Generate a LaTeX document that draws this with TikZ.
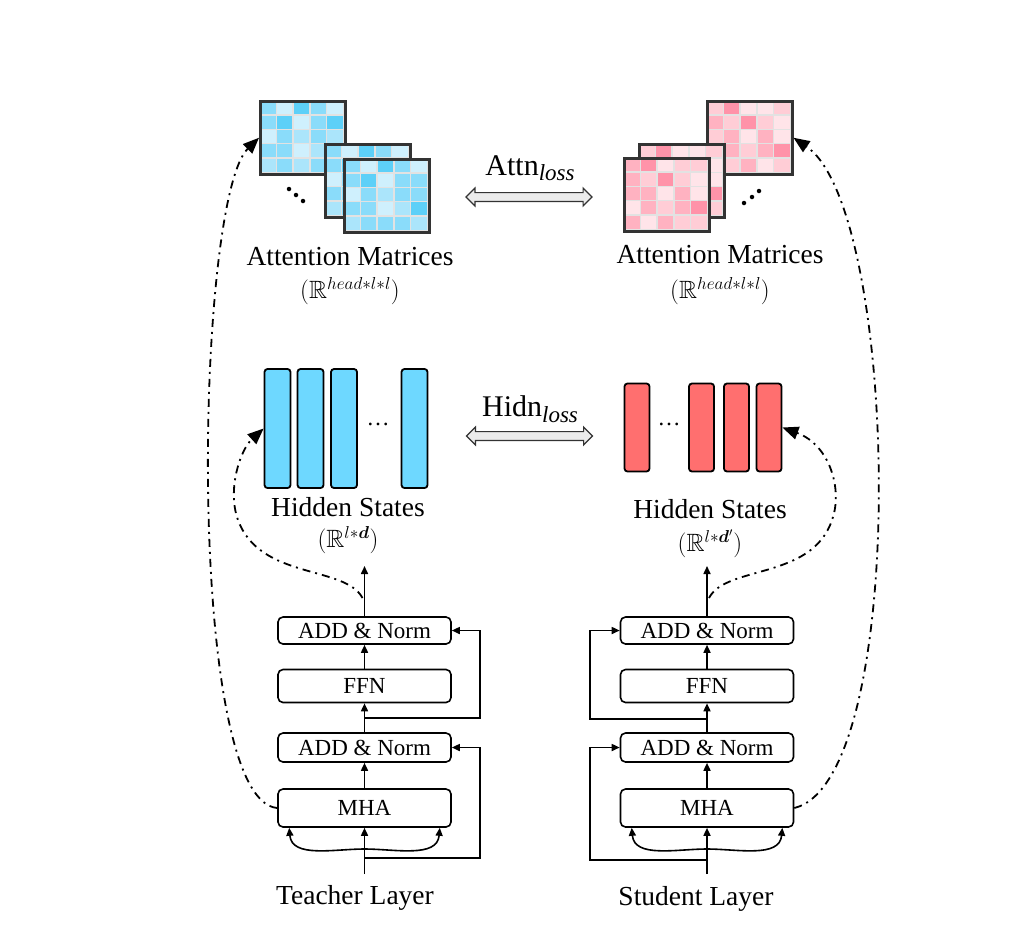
\documentclass[tikz,border=0pt]{standalone}
\usepackage{amsmath,amssymb,bm}
\usepackage{fontspec}
\setmainfont{Liberation Serif}
\usetikzlibrary{arrows.meta,shapes.arrows}
\definecolor{barblue}{HTML}{6ED8FF}
\definecolor{barred}{HTML}{FF6F6F}
\definecolor{bA}{HTML}{CFF0FD}
\definecolor{bB}{HTML}{ABE5FB}
\definecolor{bC}{HTML}{8ADCFA}
\definecolor{bD}{HTML}{5DD0F8}
\definecolor{pA}{HTML}{FFE4E9}
\definecolor{pB}{HTML}{FFCDD6}
\definecolor{pC}{HTML}{FFB2C1}
\definecolor{pD}{HTML}{FF93A9}
\definecolor{gridgray}{HTML}{E2E2E2}
\definecolor{framegray}{HTML}{333333}
\newcommand\attmat[5]{%
  \fill[gridgray] (#1,#2) rectangle ++(85,73);
  \foreach \row [count=\r from 0] in {#5} {
    \foreach \v [count=\c from 0] in \row {
      \fill[fill=#4\v] ({#1+1.5+\c*16.7},{#2+1.5+\r*14.3}) rectangle ++(15.2,12.8);
    }
  }
  \node[draw=framegray, line width=2.5pt, minimum width=85, minimum height=73, inner sep=0pt, anchor=north west] (#3) at (#1,#2) {};
}
\newcommand\lblfont{\fontsize{27.5}{30}\selectfont}
\newcommand\subfont{\fontsize{25}{28}\selectfont}
\newcommand\boxfont{\fontsize{23}{25}\selectfont}
\newcommand\lossfont{\fontsize{30}{32}\selectfont}
\newcommand\losssub[1]{\raisebox{-0.4ex}{\fontsize{23}{23}\selectfont\itshape #1}}
\tikzset{
  lbl/.style={font=\lblfont, inner sep=0pt},
  dimlbl/.style={font=\subfont, inner sep=0pt},
  layerbox/.style={draw, line width=1.6pt, rounded corners=5pt, minimum width=173, inner sep=0pt, font=\boxfont},
  arr/.style={line width=1.6pt, -{Triangle[length=8pt,width=7pt]}},
  dd/.style={line width=1.8pt, dash pattern=on 8pt off 5pt on 2pt off 5pt, -{Triangle[length=16pt,width=13pt]}},
  tbar/.style={draw, line width=1.8pt, rounded corners=3pt, fill=barblue, minimum width=26, minimum height=119, inner sep=0pt},
  sbar/.style={draw, line width=1.8pt, rounded corners=3pt, fill=barred, minimum width=25, minimum height=88, inner sep=0pt},
  lossarrow/.style={double arrow, draw=black!80, line width=1.2pt, fill=black!8, minimum height=126, inner sep=3.8pt, double arrow head extend=4.5pt, double arrow tip angle=90},
  dot/.style={circle, fill, inner sep=0pt, minimum size=4.5pt}
}
\begin{document}
\begin{tikzpicture}[x=1pt,y=-1pt]
\useasboundingbox (0,0) rectangle (1016,946);
% ---------- attention matrices ----------
\attmat{259}{100}{tM1}{b}{{C,A,D,C,A},{C,D,A,C,D},{A,C,B,C,B},{C,C,A,B,C},{B,C,B,C,B}}
\attmat{324}{143}{tM2}{b}{{C,A,D,C,A},{C,D,A,C,D},{A,C,B,C,B},{C,C,A,B,C},{B,C,B,C,B}}
\attmat{343}{158}{tM3}{b}{{C,A,D,C,A},{C,D,A,C,C},{A,C,B,C,C},{C,C,A,B,D},{B,C,C,C,B}}
\attmat{706}{100}{sM1}{p}{{B,D,A,A,B},{C,B,D,B,A},{B,C,A,C,A},{B,C,B,C,D},{A,B,C,A,B}}
\attmat{638}{143}{sM2}{p}{{B,D,A,A,B},{C,B,D,B,A},{B,C,A,C,A},{B,C,B,C,D},{A,B,C,A,B}}
\attmat{623}{157}{sM3}{p}{{C,D,A,B,B},{C,B,D,B,A},{C,C,A,C,A},{A,C,B,C,D},{C,A,C,B,B}}
\node[dot] (td1) at (289,189) {};
\node[dot] (td2) at (296,195) {};
\node[dot] (td3) at (303,201) {};
\node[dot] (sd1) at (744,203) {};
\node[dot] (sd2) at (752,197) {};
\node[dot] (sd3) at (759,191) {};
\node[lbl] (tattl) at (350,257) {Attention Matrices};
\node[dimlbl] (tattd) at (350,291) {$(\mathbb{R}^{head*l*l})$};
\node[lbl] (sattl) at (720,255) {Attention Matrices};
\node[dimlbl] (sattd) at (720,291) {$(\mathbb{R}^{head*l*l})$};
% ---------- losses ----------
\node[font=\lossfont, inner sep=0pt] (attnt) at (530,168) {Attn\losssub{loss}};
\node[lossarrow] (attna) at (529,197) {};
\node[font=\lossfont, inner sep=0pt] (hidnt) at (530,409) {Hidn\losssub{loss}};
\node[lossarrow] (hidna) at (529.5,436) {};
% ---------- hidden states ----------
\node[tbar] (tb1) at (277.5,428.5) {};
\node[tbar] (tb2) at (310.5,428.5) {};
\node[tbar] (tb3) at (344,428.5) {};
\node[tbar] (tb4) at (414.5,428.5) {};
\node[font=\boxfont, inner sep=0pt] (tdots) at (378,424) {\dots};
\node[sbar] (sb1) at (637,427.5) {};
\node[sbar] (sb2) at (701.5,427.5) {};
\node[sbar] (sb3) at (736.5,427.5) {};
\node[sbar] (sb4) at (769,427.5) {};
\node[font=\boxfont, inner sep=0pt] (sdots) at (669,424) {\dots};
\node[lbl] (thl) at (348,507) {Hidden States};
\node[dimlbl] (thd) at (348,540) {$(\mathbb{R}^{l*\boldsymbol{d}})$};
\node[lbl] (shl) at (710,509) {Hidden States};
\node[dimlbl] (shd) at (710,544) {$(\mathbb{R}^{l*\boldsymbol{d}'})$};
% ---------- teacher layer ----------
\node[layerbox, minimum height=27] (tAN2) at (364.5,630.5) {ADD \& Norm};
\node[layerbox, minimum height=33] (tFFN) at (364.5,686) {FFN};
\node[layerbox, minimum height=29] (tAN1) at (364.5,747.5) {ADD \& Norm};
\node[layerbox, minimum height=38] (tMHA) at (364.5,808) {MHA};
\coordinate (tout) at (364.5,566);
\coordinate (tin) at (364.5,874);
\coordinate (tj1) at (364.5,858);
\coordinate (tj2) at (364.5,718);
\coordinate (tr1) at (480,858);
\coordinate (tr2) at (480,718);
\coordinate (tc) at (364.5,849);
\draw[arr] (tin) -- (tMHA);
\draw[arr] (tMHA) -- (tAN1);
\draw[arr] (tAN1) -- (tFFN);
\draw[arr] (tFFN) -- (tAN2);
\draw[arr] (tAN2) -- (tout);
\draw[arr] (tj1) -- (tr1) |- (tAN1.east);
\draw[arr] (tj2) -- (tr2) |- (tAN2.east);
\draw[arr] (tc) to[out=180,in=-85] ([xshift=12pt]tMHA.south west);
\draw[arr] (tc) to[out=0,in=-95] ([xshift=-12pt]tMHA.south east);
\node[lbl] (tlay) at (355,898) {Teacher Layer};
% ---------- student layer ----------
\node[layerbox, minimum height=27] (sAN2) at (707,630.5) {ADD \& Norm};
\node[layerbox, minimum height=33] (sFFN) at (707,686) {FFN};
\node[layerbox, minimum height=29] (sAN1) at (707,747.5) {ADD \& Norm};
\node[layerbox, minimum height=38] (sMHA) at (707,808) {MHA};
\coordinate (sout) at (707,566);
\coordinate (sin) at (707,874);
\coordinate (sj1) at (707,860);
\coordinate (sj2) at (707,719);
\coordinate (sr1) at (590,860);
\coordinate (sr2) at (590,719);
\coordinate (sc) at (707,849);
\draw[arr] (sin) -- (sMHA);
\draw[arr] (sMHA) -- (sAN1);
\draw[arr] (sAN1) -- (sFFN);
\draw[arr] (sFFN) -- (sAN2);
\draw[arr] (sAN2) -- (sout);
\draw[arr] (sj1) -- (sr1) |- (sAN1.west);
\draw[arr] (sj2) -- (sr2) |- (sAN2.west);
\draw[arr] (sc) to[out=180,in=-85] ([xshift=12pt]sMHA.south west);
\draw[arr] (sc) to[out=0,in=-95] ([xshift=-12pt]sMHA.south east);
\node[lbl] (slay) at (696,899) {Student Layer};
% ---------- dash-dot connectors ----------
\coordinate (th) at (362.5,598);
\coordinate (sh) at (709,598);
\draw[dd] (tMHA.west) .. controls (185,800) and (195,200) .. (tM1.west);
\draw[dd] (sMHA.east) .. controls (910,780) and (900,210) .. (sM1.east);
\draw[dd] (th) .. controls (345,565) and (260,580) .. (238,520) .. controls (227,490) and (240,450) .. (tb1.west);
\draw[dd] (sh) .. controls (726,565) and (812,580) .. (832,520) .. controls (843,490) and (830,445) .. (sb4.east);
\end{tikzpicture}
\end{document}
